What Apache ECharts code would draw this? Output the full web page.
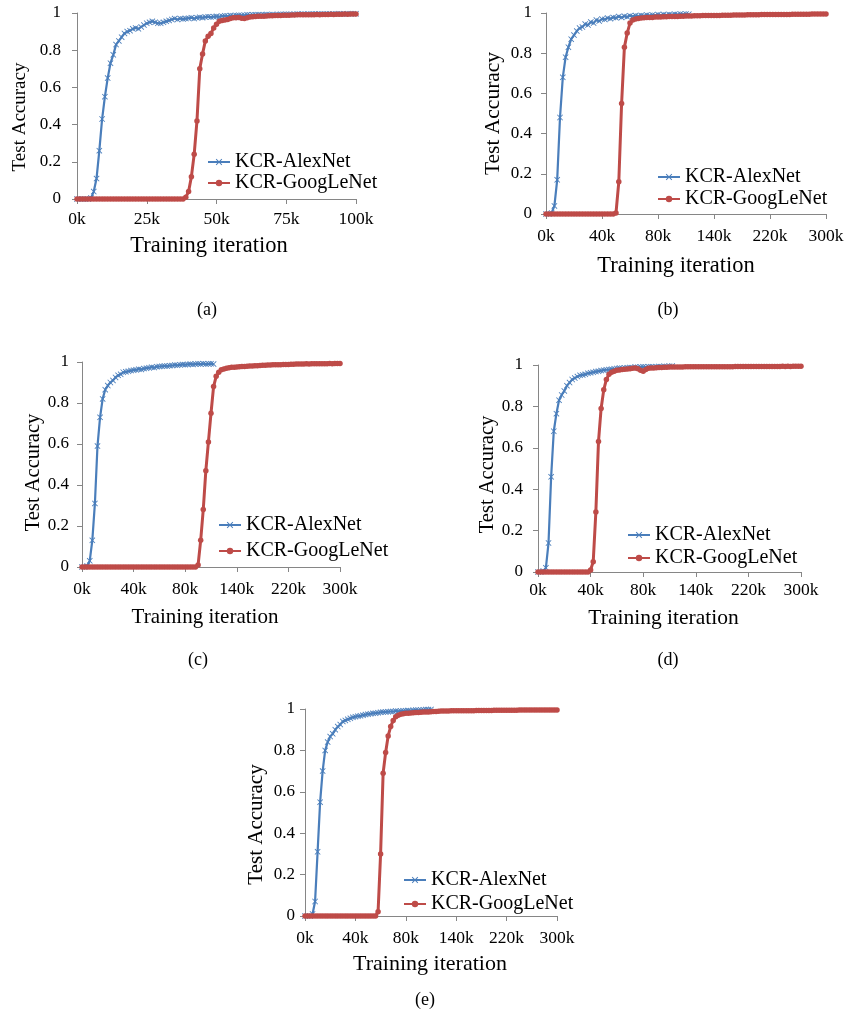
<!DOCTYPE html>
<html><head><meta charset="utf-8">
<script src="https://cdn.jsdelivr.net/npm/echarts@6/dist/echarts.min.js"></script>
<style>html,body{margin:0;padding:0;background:#fff}#c{width:848px;height:1017px}</style>
</head><body><div id="c"></div>
<script>
// ---- data ----
const seriesNames = ['KCR-AlexNet', 'KCR-GoogLeNet'];
const xTitle = 'Training iteration';
const yTitle = 'Test Accuracy';
const captions = ['(a)', '(b)', '(c)', '(d)', '(e)'];
const xLabelsA = ['0k', '25k', '50k', '75k', '100k'];
const xLabelsB = ['0k', '40k', '80k', '140k', '220k', '300k'];

// values at successive x positions (one per step of the x axis)
const alexA = [0,0,0,0,0,0.005,0.04,0.11,0.26,0.43,
  0.55,0.65,0.73,0.775,0.83,0.85,0.87,0.89,0.9,0.905,
  0.915,0.92,0.915,0.925,0.935,0.945,0.95,0.955,0.95,0.945,
  0.945,0.95,0.955,0.96,0.965,0.97,0.965,0.97,0.968,0.97,
  0.972,0.975,0.97,0.975,0.977,0.975,0.978,0.98,0.978,0.98,
  0.982,0.98,0.983,0.985,0.984,0.986,0.985,0.987,0.988,0.987,
  0.988,0.99,0.989,0.99,0.99,0.991,0.99,0.991,0.992,0.991,
  0.992,0.991,0.992,0.993,0.992,0.993,0.993,0.992,0.993,0.994,
  0.993,0.994,0.993,0.994,0.994,0.995,0.994,0.995,0.994,0.995,
  0.995,0.994,0.995,0.995,0.996,0.995,0.995,0.996,0.996,0.996,0.996];
const googA = [0,0,0,0,0,0,0,0,0,0,
  0,0,0,0,0,0,0,0,0,0,
  0,0,0,0,0,0,0,0,0,0,
  0,0,0,0,0,0,0,0,0,0.01,
  0.04,0.12,0.24,0.42,0.7,0.78,0.85,0.875,0.89,0.92,
  0.94,0.955,0.96,0.962,0.965,0.97,0.975,0.975,0.976,0.972,
  0.97,0.974,0.978,0.98,0.981,0.982,0.983,0.983,0.984,0.985,
  0.985,0.986,0.986,0.987,0.988,0.988,0.988,0.989,0.989,0.99,
  0.99,0.99,0.99,0.991,0.991,0.991,0.992,0.991,0.992,0.992,
  0.992,0.993,0.992,0.993,0.993,0.993,0.994,0.993,0.994,0.994,0.995];

const alexB = [0,0,0.005,0.04,0.17,0.48,0.68,0.78,0.83,0.87,
  0.89,0.91,0.925,0.93,0.945,0.94,0.955,0.95,0.965,0.96,
  0.97,0.968,0.975,0.972,0.978,0.976,0.982,0.978,0.984,0.981,
  0.986,0.983,0.987,0.985,0.988,0.986,0.99,0.987,0.99,0.988,
  0.992,0.989,0.993,0.99,0.993,0.991,0.994,0.992,0.995,0.993,0.995,0.994];
const googB = [0,0,0,0,0,0,0,0,0,0,
  0,0,0,0,0,0,0,0,0,0,
  0,0,0,0,0,0.005,0.16,0.55,0.83,0.9,
  0.95,0.965,0.97,0.973,0.975,0.976,0.977,0.978,0.978,0.98,
  0.98,0.98,0.981,0.981,0.982,0.982,0.983,0.983,0.984,0.984,
  0.985,0.985,0.985,0.986,0.986,0.986,0.987,0.987,0.987,0.988,
  0.988,0.988,0.988,0.989,0.989,0.989,0.989,0.99,0.99,0.99,
  0.99,0.99,0.991,0.991,0.991,0.991,0.991,0.992,0.992,0.992,
  0.992,0.992,0.993,0.993,0.993,0.993,0.993,0.993,0.994,0.994,
  0.994,0.994,0.994,0.994,0.994,0.995,0.995,0.995,0.995,0.995,0.995];

const alexC = [0,0,0.005,0.03,0.13,0.31,0.59,0.73,0.82,0.865,
  0.885,0.9,0.91,0.925,0.935,0.94,0.95,0.952,0.955,0.958,
  0.96,0.962,0.965,0.964,0.968,0.97,0.972,0.975,0.973,0.977,
  0.978,0.979,0.98,0.98,0.982,0.983,0.985,0.984,0.986,0.988,
  0.987,0.988,0.99,0.988,0.99,0.991,0.99,0.992,0.99,0.991,0.992,0.99];
const googC = [0,0,0,0,0,0,0,0,0,0,
  0,0,0,0,0,0,0,0,0,0,
  0,0,0,0,0,0,0,0,0,0,
  0,0,0,0,0,0,0,0,0,0,
  0,0,0,0,0,0.01,0.13,0.28,0.47,0.61,
  0.75,0.88,0.93,0.95,0.962,0.966,0.97,0.972,0.974,0.975,
  0.976,0.977,0.978,0.978,0.979,0.98,0.981,0.982,0.982,0.983,
  0.984,0.984,0.985,0.985,0.986,0.986,0.987,0.987,0.988,0.988,
  0.988,0.989,0.989,0.99,0.99,0.99,0.99,0.991,0.99,0.991,
  0.991,0.992,0.991,0.992,0.992,0.992,0.993,0.992,0.993,0.993,0.993];

const alexD = [0,0,0.005,0.02,0.14,0.46,0.68,0.765,0.83,0.855,
  0.875,0.9,0.915,0.93,0.937,0.944,0.95,0.952,0.955,0.96,
  0.962,0.965,0.968,0.97,0.973,0.975,0.977,0.978,0.98,0.982,
  0.983,0.985,0.984,0.986,0.987,0.988,0.987,0.99,0.989,0.99,
  0.991,0.99,0.991,0.992,0.99,0.992,0.993,0.992,0.994,0.993,0.994,0.995];
const googD = [0,0,0,0,0,0,0,0,0,0,
  0,0,0,0,0,0,0,0,0,0,
  0.01,0.05,0.29,0.63,0.79,0.88,0.93,0.955,0.965,0.97,
  0.975,0.976,0.978,0.98,0.981,0.982,0.984,0.985,0.982,0.975,
  0.97,0.978,0.984,0.986,0.986,0.987,0.988,0.988,0.989,0.989,
  0.99,0.99,0.99,0.99,0.99,0.99,0.991,0.991,0.991,0.991,
  0.991,0.991,0.991,0.991,0.992,0.992,0.992,0.992,0.992,0.992,
  0.992,0.992,0.992,0.992,0.992,0.993,0.993,0.993,0.993,0.993,
  0.993,0.993,0.993,0.993,0.993,0.993,0.993,0.993,0.993,0.993,
  0.993,0.993,0.993,0.994,0.993,0.994,0.993,0.994,0.994,0.994,0.994];

const alexE = [0,0,0,0.01,0.07,0.31,0.55,0.7,0.8,0.84,
  0.867,0.88,0.9,0.915,0.925,0.94,0.945,0.95,0.955,0.96,
  0.963,0.965,0.967,0.97,0.973,0.975,0.977,0.979,0.98,0.982,
  0.984,0.985,0.986,0.987,0.988,0.988,0.99,0.989,0.99,0.991,
  0.992,0.993,0.992,0.994,0.995,0.994,0.995,0.996,0.997,0.997,0.998];
const googE = [0,0,0,0,0,0,0,0,0,0,
  0,0,0,0,0,0,0,0,0,0,
  0,0,0,0,0,0,0,0,0,0.02,
  0.3,0.69,0.79,0.87,0.915,0.945,0.962,0.97,0.975,0.977,
  0.98,0.98,0.981,0.982,0.983,0.983,0.984,0.985,0.986,0.986,
  0.987,0.988,0.988,0.989,0.99,0.99,0.99,0.99,0.991,0.991,
  0.991,0.991,0.991,0.992,0.992,0.992,0.992,0.992,0.993,0.993,
  0.993,0.993,0.993,0.993,0.993,0.994,0.994,0.994,0.994,0.994,
  0.994,0.994,0.994,0.994,0.994,0.995,0.995,0.995,0.995,0.995,
  0.995,0.995,0.995,0.995,0.995,0.995,0.995,0.995,0.995,0.995,0.995];

const panelData = [
  {labels: xLabelsA, alex: alexA, goog: googA},
  {labels: xLabelsB, alex: alexB, goog: googB},
  {labels: xLabelsB, alex: alexC, goog: googC},
  {labels: xLabelsB, alex: alexD, goog: googD},
  {labels: xLabelsB, alex: alexE, goog: googE}
];

// ---- layout / style ----
// xShift / yShift: offset of the axis titles from the centre of the axis (px)
const layouts = [
  {grid: {left: 77, top: 13, width: 279, height: 186}, legend: {left: 207, top: 152, itemGap: 1}, cap: {x: 207, y: 301},
   xGap: 36, xFont: 22.5, xShift: -7.5, yGap: 47, yFont: 19, yShift: 11, xLblMargin: 11, yLblMargin: 16},
  {grid: {left: 546, top: 13, width: 280, height: 201}, legend: {left: 657, top: 167, itemGap: 2}, cap: {x: 668, y: 301},
   xGap: 41, xFont: 22.5, xShift: -10, yGap: 42, yFont: 21.5, yShift: 0, xLblMargin: 13, yLblMargin: 14},
  {grid: {left: 82, top: 362, width: 258, height: 205}, legend: {left: 218, top: 515, itemGap: 6}, cap: {x: 198, y: 651},
   xGap: 40, xFont: 21, xShift: -6, yGap: 38, yFont: 20.5, yShift: 8, xLblMargin: 13, yLblMargin: 13},
  {grid: {left: 538, top: 365, width: 263, height: 207}, legend: {left: 627, top: 525, itemGap: 3}, cap: {x: 668, y: 651},
   xGap: 35, xFont: 21.5, xShift: -6, yGap: 40, yFont: 20.5, yShift: 6, xLblMargin: 9, yLblMargin: 15},
  {grid: {left: 305, top: 709, width: 252, height: 207}, legend: {left: 403, top: 870, itemGap: 4}, cap: {x: 425, y: 991},
   xGap: 37, xFont: 22, xShift: -1, yGap: 38, yFont: 21, yShift: 12, xLblMargin: 13, yLblMargin: 10}
];
const BLUE = '#4A7EBB', RED = '#BE4B48', AXIS = '#868686';
const FONT = '"Liberation Serif", "Times New Roman", serif';
const crossPath = 'path://M0,1L1,0L5,4L9,0L10,1L6,5L10,9L9,10L5,6L1,10L0,9L4,5Z';

const option = {
  backgroundColor: '#fff',
  animation: false,
  textStyle: {fontFamily: FONT, color: '#000'},
  grid: [], xAxis: [], yAxis: [], series: [], legend: [], title: []
};

panelData.forEach((p, k) => {
  const L = layouts[k];
  const steps = p.labels.length - 1;
  const interval = 100 / steps;
  option.grid.push(Object.assign({containLabel: false}, L.grid));
  const xs = L.xShift, ys = L.yShift;
  option.xAxis.push({
    type: 'value', gridIndex: k, min: 0, max: 100, interval: interval,
    name: xTitle, nameLocation: 'middle', nameGap: L.xGap,
    nameTextStyle: {fontFamily: FONT, fontSize: L.xFont, color: '#000',
      padding: xs < 0 ? [0, -2 * xs, 0, 0] : [0, 0, 0, 2 * xs]},
    axisLine: {show: true, lineStyle: {color: AXIS, width: 1}},
    axisTick: {show: true, inside: false, length: 5, lineStyle: {color: AXIS}},
    splitLine: {show: false},
    axisLabel: {fontFamily: FONT, fontSize: 17.5, color: '#000', margin: L.xLblMargin,
      formatter: v => p.labels[Math.round(v / interval)]}
  });
  option.yAxis.push({
    type: 'value', gridIndex: k, min: 0, max: 1, interval: 0.2,
    name: yTitle, nameLocation: 'middle', nameGap: L.yGap, nameRotate: 90,
    nameTextStyle: {fontFamily: FONT, fontSize: L.yFont, color: '#000',
      padding: ys > 0 ? [0, 2 * ys, 0, 0] : [0, 0, 0, -2 * ys]},
    axisLine: {show: true, lineStyle: {color: AXIS, width: 1}},
    axisTick: {show: true, inside: false, length: 5, lineStyle: {color: AXIS}},
    splitLine: {show: false},
    axisLabel: {fontFamily: FONT, fontSize: 17, color: '#000', margin: L.yLblMargin}
  });
  option.series.push({
    name: seriesNames[0], type: 'line', xAxisIndex: k, yAxisIndex: k,
    data: p.alex.map((v, i) => [i, v]),
    symbol: crossPath, symbolSize: 6, showAllSymbol: true,
    lineStyle: {color: BLUE, width: 2.2}, itemStyle: {color: BLUE}
  });
  option.series.push({
    name: seriesNames[1], type: 'line', xAxisIndex: k, yAxisIndex: k,
    data: p.goog.map((v, i) => [i, v]),
    symbol: 'circle', symbolSize: 5.5, showAllSymbol: true,
    lineStyle: {color: RED, width: 3}, itemStyle: {color: RED}
  });
  option.legend.push({
    data: seriesNames, orient: 'vertical', left: L.legend.left, top: L.legend.top,
    itemGap: L.legend.itemGap, itemWidth: 22, itemHeight: 8, padding: 0,
    textStyle: {fontFamily: FONT, fontSize: 20, color: '#000'}
  });
  option.title.push({
    text: captions[k], left: L.cap.x, top: L.cap.y, textAlign: 'center', padding: 0,
    textStyle: {fontFamily: FONT, fontSize: 18, fontWeight: 'normal', color: '#000'}
  });
});

const chart = echarts.init(document.getElementById('c'), null, {renderer: 'canvas'});
chart.setOption(option);
</script>
</body></html>
